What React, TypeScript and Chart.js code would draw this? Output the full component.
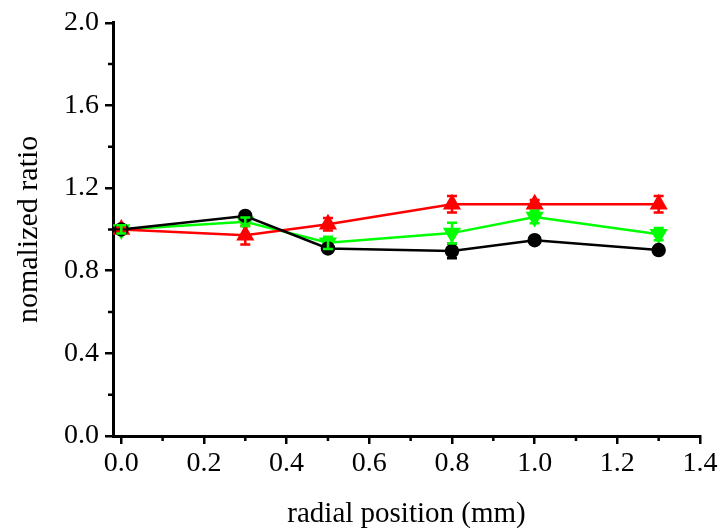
import React, { useEffect, useRef } from "react";
import { Chart, registerables } from "chart.js";

Chart.register(...registerables);

const positions = [0, 0.3, 0.5, 0.8, 1.0, 1.3];
const blackValues = [1.0, 1.065, 0.908, 0.895, 0.948, 0.9];
const blackErrors = [0.01, 0.01, 0.015, 0.035, 0.01, 0.01];
const redValues = [1.0, 0.972, 1.025, 1.122, 1.122, 1.122];
const redErrors = [0.01, 0.045, 0.03, 0.04, 0.02, 0.04];
const greenValues = [1.0, 1.037, 0.935, 0.982, 1.06, 0.977];
const greenErrors = [0.02, 0.02, 0.03, 0.05, 0.03, 0.03];

const yTicks = [0, 0.4, 0.8, 1.2, 1.6, 2.0];
const xTicks = [0, 0.2, 0.4, 0.6, 0.8, 1.0, 1.2, 1.4];

const FONT = "'Liberation Serif', 'Times New Roman', serif";

const errorBarPlugin = {
  id: "errorBars",
  afterDatasetsDraw(chart: any) {
    const ctx = chart.ctx;
    const xs = chart.scales.x;
    const ys = chart.scales.y;
    chart.data.datasets.forEach((ds: any) => {
      const errs: number[] = ds.errors || [];
      ctx.save();
      ctx.strokeStyle = ds.borderColor;
      ctx.lineWidth = 2.5;
      ds.data.forEach((p: any, i: number) => {
        const e = errs[i] || 0;
        const px = xs.getPixelForValue(p.x);
        const yTop = ys.getPixelForValue(p.y + e);
        const yBot = ys.getPixelForValue(p.y - e);
        ctx.beginPath();
        ctx.moveTo(px, yTop);
        ctx.lineTo(px, yBot);
        ctx.moveTo(px - 5, yTop);
        ctx.lineTo(px + 5, yTop);
        ctx.moveTo(px - 5, yBot);
        ctx.lineTo(px + 5, yBot);
        ctx.stroke();
      });
      ctx.restore();
    });
  },
};

const minorTickPlugin = {
  id: "minorTicks",
  afterDraw(chart: any) {
    const ctx = chart.ctx;
    const xs = chart.scales.x;
    const ys = chart.scales.y;
    const area = chart.chartArea;
    ctx.save();
    ctx.strokeStyle = "#000";
    ctx.lineWidth = 2.5;
    ctx.beginPath();
    for (let i = 0; i < yTicks.length - 1; i++) {
      const v = (yTicks[i] + yTicks[i + 1]) / 2;
      const py = ys.getPixelForValue(v);
      ctx.moveTo(area.left, py);
      ctx.lineTo(area.left - 5, py);
    }
    for (let i = 0; i < xTicks.length - 1; i++) {
      const v = (xTicks[i] + xTicks[i + 1]) / 2;
      const px = xs.getPixelForValue(v);
      ctx.moveTo(px, area.bottom);
      ctx.lineTo(px, area.bottom + 5);
    }
    ctx.stroke();
    ctx.restore();
  },
};

export default function App() {
  const ref = useRef<HTMLCanvasElement>(null);
  useEffect(() => {
    if (!ref.current) return;
    const mk = (vals: number[]) => positions.map((x, i) => ({ x, y: vals[i] }));
    const chart = new Chart(ref.current, {
      type: "scatter",
      data: {
        datasets: [
          {
            label: "black",
            data: mk(blackValues),
            errors: blackErrors,
            showLine: true,
            borderColor: "#000000",
            backgroundColor: "#000000",
            borderWidth: 2.5,
            pointStyle: "circle",
            pointRadius: 6,
          } as any,
          {
            label: "red",
            data: mk(redValues),
            errors: redErrors,
            showLine: true,
            borderColor: "#ff0000",
            backgroundColor: "#ff0000",
            borderWidth: 2.5,
            pointStyle: "triangle",
            pointRadius: 8,
          } as any,
          {
            label: "green",
            data: mk(greenValues),
            errors: greenErrors,
            showLine: true,
            borderColor: "#00ff00",
            backgroundColor: "#00ff00",
            borderWidth: 2.5,
            pointStyle: "triangle",
            pointRotation: 180,
            pointRadius: 8,
          } as any,
        ],
      },
      options: {
        animation: false,
        responsive: false,
        maintainAspectRatio: false,
        layout: { padding: { left: 0, right: 21, top: 22, bottom: 0 } },
        plugins: { legend: { display: false }, tooltip: { enabled: false } },
        scales: {
          x: {
            type: "linear",
            min: -0.02,
            max: 1.4,
            afterBuildTicks: (scale: any) => {
              scale.ticks = xTicks.map((v) => ({ value: v }));
            },
            afterFit: (scale: any) => {
              scale.height = 95;
            },
            ticks: {
              color: "#000",
              font: { family: FONT, size: 28 },
              padding: 3,
              maxRotation: 0,
              callback: (v: any) => Number(v).toFixed(1),
            },
            grid: { drawOnChartArea: false, drawTicks: true, tickLength: 8, color: "#000", lineWidth: 2.5 },
            border: { display: true, color: "#000", width: 3 },
            title: {
              display: true,
              text: "radial position (mm)",
              color: "#000",
              font: { family: FONT, size: 29, lineHeight: 1.0 },
              padding: { top: 10, bottom: 2 },
            },
          },
          y: {
            type: "linear",
            min: 0,
            max: 2.0,
            afterBuildTicks: (scale: any) => {
              scale.ticks = yTicks.map((v) => ({ value: v }));
            },
            afterFit: (scale: any) => {
              scale.width = 113;
            },
            ticks: {
              color: "#000",
              font: { family: FONT, size: 28 },
              padding: 6,
              callback: (v: any) => Number(v).toFixed(1),
            },
            grid: { drawOnChartArea: false, drawTicks: true, tickLength: 8, color: "#000", lineWidth: 2.5 },
            border: { display: true, color: "#000", width: 3 },
            title: {
              display: true,
              text: "nomalized ratio",
              color: "#000",
              font: { family: FONT, size: 30, lineHeight: 1.0 },
              padding: { top: 14, bottom: 0 },
            },
          },
        },
      } as any,
      plugins: [errorBarPlugin, minorTickPlugin],
    });
    return () => chart.destroy();
  }, []);
  return (
    <div style={{ position: "absolute", left: 0, top: 0, width: 721, height: 531, background: "#fff" }}>
      <canvas ref={ref} width={721} height={531} style={{ width: 721, height: 531 }} />
    </div>
  );
}
